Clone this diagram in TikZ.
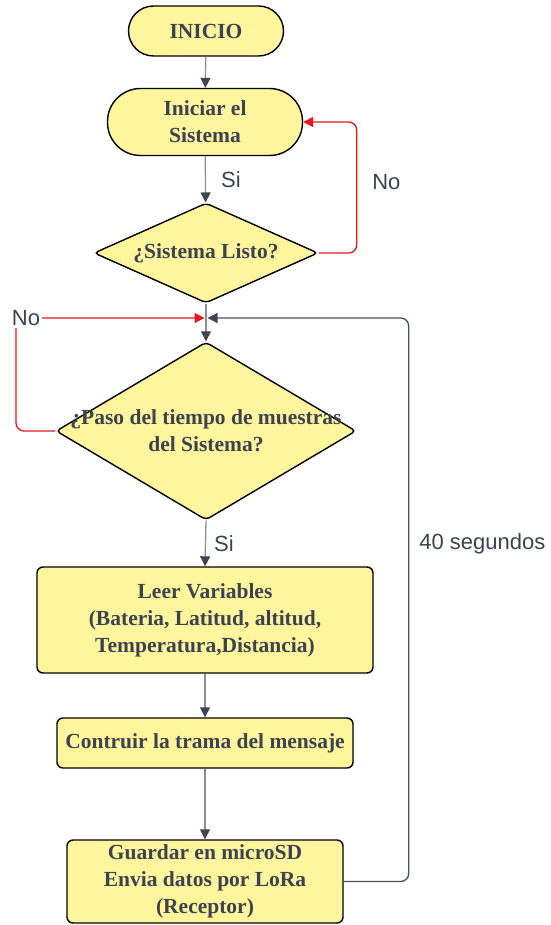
\documentclass[tikz,border=0pt]{standalone}
\usepackage{fontspec}
\setmainfont{Liberation Serif}
\setsansfont{Liberation Sans}
\usetikzlibrary{shapes.geometric,arrows.meta}
\definecolor{boxfill}{HTML}{FFF59D}
\definecolor{boxtext}{HTML}{3B4350}
\definecolor{linegray}{HTML}{8A8F97}
\definecolor{tipgray}{HTML}{3F4550}
\definecolor{loopgray}{HTML}{4B515A}
\definecolor{nored}{HTML}{E8161B}

\begin{document}
\begin{tikzpicture}[x=1pt,y=-1pt,
    boxfont/.style={font=\bfseries\fontsize{21.5}{27}\selectfont, text=boxtext, align=center},
    tagfont/.style={font=\sffamily\fontsize{22}{26}\selectfont, text=boxtext, inner sep=2pt},
    terminal/.style={boxfont, draw=black, line width=1.4pt, fill=boxfill, inner sep=0pt},
    process/.style={boxfont, draw=black, line width=1.4pt, fill=boxfill, inner sep=0pt,
                    rounded corners=6pt},
    decision/.style={diamond, draw=black, line width=1.4pt, fill=boxfill, inner sep=0pt,
                     rounded corners=4pt},
    flow/.style={draw=linegray, line width=1.3pt, -{Triangle[length=10pt,width=10pt,color=tipgray]}},
    noflow/.style={draw=nored, line width=1.3pt, rounded corners=8pt,
                   -{Triangle[length=10pt,width=10pt,color=nored]}},
    loopflow/.style={draw=loopgray, line width=1.3pt, rounded corners=8pt,
                     -{Triangle[length=10pt,width=10pt,color=tipgray]}}]
  \useasboundingbox (0,0) rectangle (550,925);

  \node[terminal, minimum width=155pt, minimum height=50pt, rounded corners=25pt]
    (inicio) at (206,31) {INICIO};
  \node[terminal, minimum width=195pt, minimum height=67pt, rounded corners=33pt]
    (iniciar) at (205,122) {Iniciar el\\Sistema};
  \node[decision, minimum width=224pt, minimum height=100pt,
        label={[boxfont]center:¿Sistema Listo?}] (listo) at (206,253) {};
  \coordinate (merge) at (206,318);
  \coordinate (nocorner) at (16,318);
  \node[decision, minimum width=300pt, minimum height=178pt,
        label={[boxfont]center:¿Paso del tiempo de muestras\\del Sistema?}] (paso) at (206,431) {};
  \node[process, minimum width=336pt, minimum height=106pt]
    (leer) at (205,620) {Leer Variables\\(Bateria, Latitud, altitud,\\Temperatura,Distancia)};
  \node[process, minimum width=296pt, minimum height=50pt]
    (trama) at (205,743) {Contruir la trama del mensaje};
  \node[process, minimum width=276pt, minimum height=83pt]
    (guardar) at (205,881.5) {Guardar en microSD\\Envia datos por LoRa\\(Receptor)};

  \draw[flow] (inicio) -- (iniciar);
  \draw[flow] (iniciar) -- node[tagfont, right=13pt] {Si} (listo);
  \draw[noflow] (listo.east) -- ++(38,0) |- node[tagfont, pos=0.27, right=13pt] {No} (iniciar.east);
  \draw[draw=linegray, line width=1.3pt] (listo.south) -- (merge);
  \draw[flow] (merge) -- (paso.north);
  \draw[noflow, shorten >=1.5pt] (paso.west) -| (nocorner) -- (merge);
  \node[tagfont, fill=white] (notag) at (26,318) {No};
  \draw[loopflow, shorten >=1.5pt] (guardar.east) -- ++(65,0) |- node[tagfont, pos=0.3, right=8pt] {40 segundos} (merge);
  \draw[flow] (paso.south) -- node[tagfont, right=6pt] {Si} (leer.north);
  \draw[flow] (leer) -- (trama);
  \draw[flow] (trama) -- (guardar);
\end{tikzpicture}
\end{document}
